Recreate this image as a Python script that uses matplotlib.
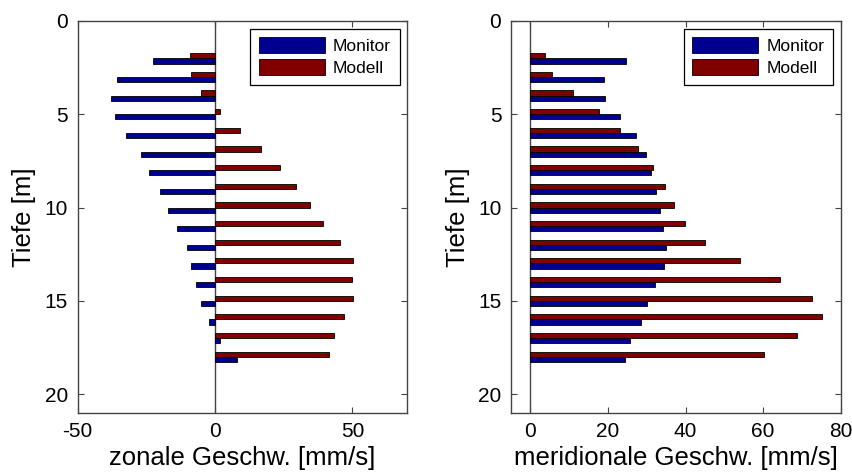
import numpy as np
import matplotlib.pyplot as plt

plt.rcParams['font.family'] = ['Liberation Sans', 'DejaVu Sans']
plt.rcParams['axes.unicode_minus'] = False

# Tiefen der Messungen
tiefe = np.arange(2, 19)

# zonale Geschwindigkeit [mm/s]
zonal_monitor = [-22.7, -35.7, -38.0, -36.3, -32.3, -26.9, -24.0, -20.1, -17.1,
                 -13.8, -10.2, -8.6, -6.9, -5.0, -2.1, 1.8, 8.0]
zonal_modell = [-9.0, -8.6, -5.1, 1.8, 8.9, 16.7, 23.8, 29.4, 34.6,
                39.4, 45.4, 50.1, 49.9, 50.1, 46.8, 43.2, 41.3]

# meridionale Geschwindigkeit [mm/s]
merid_monitor = [24.7, 18.9, 19.2, 23.0, 27.2, 29.9, 31.0, 32.5, 33.5,
                 34.3, 35.0, 34.5, 32.1, 30.1, 28.4, 25.7, 24.4]
merid_modell = [3.7, 5.6, 10.9, 17.7, 23.0, 27.7, 31.5, 34.6, 37.1,
                39.9, 44.9, 53.9, 64.3, 72.5, 75.1, 68.8, 60.3]

blau = '#000090'
rot = '#800000'
grau = '#444444'

fig = plt.figure(figsize=(8.52, 4.75), dpi=100)
ax1 = fig.add_axes([0.0912, 0.1312, 0.3869, 0.8246])
ax2 = fig.add_axes([0.5998, 0.1312, 0.3870, 0.8246])

h = 0.28


def panel(ax, monitor, modell, xlim, xticks, xlabel):
    ax.barh(tiefe + h / 2, monitor, height=h, color=blau, edgecolor='black',
            linewidth=0.6, label='Monitor')
    ax.barh(tiefe - h / 2, modell, height=h, color=rot, edgecolor='black',
            linewidth=0.6, label='Modell')
    ax.axvline(0, color=grau, linewidth=1.0, zorder=0.5)
    ax.set_xlim(*xlim)
    ax.set_ylim(21, 0)
    ax.set_xticks(xticks)
    ax.set_yticks([0, 5, 10, 15, 20])
    ax.tick_params(direction='in', length=4, width=0.8, color=grau,
                   top=True, right=True, labelsize=15, pad=7)
    for s in ax.spines.values():
        s.set_color(grau)
        s.set_linewidth(1.0)
    ax.set_xlabel(xlabel, fontsize=18.5, labelpad=3)
    ax.set_ylabel('Tiefe [m]', fontsize=18.5, labelpad=6)
    leg = ax.legend(loc='upper right', fontsize=12.5, handlelength=3.8,
                    handleheight=1.0, handletextpad=0.45, labelspacing=0.3,
                    borderpad=0.5, borderaxespad=0.45, fancybox=False,
                    framealpha=1)
    leg.get_frame().set_edgecolor('black')
    leg.get_frame().set_linewidth(0.9)


panel(ax1, zonal_monitor, zonal_modell, (-50, 70), [-50, 0, 50],
      'zonale Geschw. [mm/s]')
panel(ax2, merid_monitor, merid_modell, (-5, 80), [0, 20, 40, 60, 80],
      'meridionale Geschw. [mm/s]')

fig.savefig('out.png', dpi=100)
